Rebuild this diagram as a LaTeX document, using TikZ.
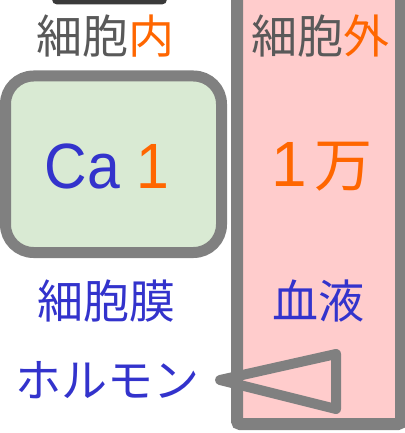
\documentclass[tikz,border=0pt]{standalone}
\usepackage{fontspec}
\setmainfont{Liberation Sans}
\newfontfamily\cjk{Noto Sans CJK JP}
\definecolor{tgray}{HTML}{595959}
\definecolor{bgray}{HTML}{808080}
\definecolor{tblue}{HTML}{3333CC}
\definecolor{torange}{HTML}{FF6600}
\definecolor{cellgreen}{HTML}{D9EAD3}
\definecolor{bloodpink}{HTML}{FFCCCC}
\definecolor{blob}{HTML}{3A3A3A}
\tikzset{
  jtext/.style={inner sep=0pt, font=\cjk\fontsize{46}{50}\selectfont},
  bigtext/.style={inner sep=0pt, font=\fontsize{64}{70}\selectfont},
  wall/.style={draw=bgray, line width=12pt},
}
\begin{document}
\begin{tikzpicture}[x=1pt,y=-1pt]
\useasboundingbox (0,0) rectangle (404,433);
% dark blob at top (cut off)
\fill[blob, rounded corners=5pt] (52,-12) rectangle (167,4.5);
% extracellular column
\draw[wall, fill=bloodpink, rounded corners=3pt] (237,-20) rectangle (401,424);
% cell box
\draw[wall, line width=11pt, fill=cellgreen, rounded corners=28pt] (5.5,76) rectangle (221.5,252.5);
% labels
\node[jtext] (inlbl) at (105,36) {\color{tgray}細胞\color{torange}内};
\node[jtext] (outlbl) at (320,36) {\color{tgray}細胞\color{torange}外};
\node[bigtext, xscale=0.92] (ca) at (107,166) {\color{tblue}Ca \color{torange}1};
\node[inner sep=0pt, text=torange] (man) at (322,167) {\fontsize{64}{70}\selectfont 1\hspace{0.12em}{\cjk\fontsize{58}{62}\selectfont 万}};
\node[jtext, text=tblue] (memb) at (106,301) {細胞膜};
\node[jtext, text=tblue] (blood) at (318,301) {血液};
\node[jtext, text=tblue] (horm) at (107,380) {ホルモン};
% triangle
\coordinate (tip) at (220,380);
\coordinate (ttop) at (336,354);
\coordinate (tbot) at (336,409);
\draw[draw=bgray, line width=10pt, line join=round] (tip) -- (ttop) -- (tbot) -- cycle;
\end{tikzpicture}
\end{document}
